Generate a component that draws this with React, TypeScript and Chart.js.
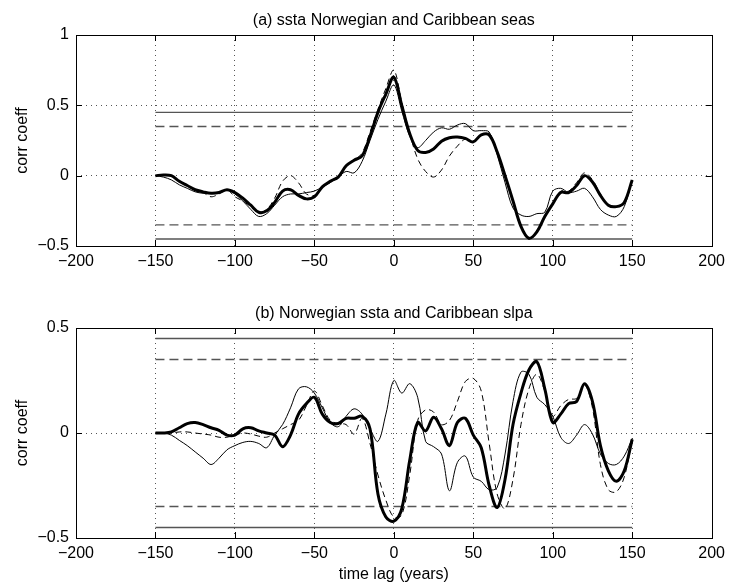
import React, { useEffect, useRef } from 'react';
import { Chart, registerables } from 'chart.js';

Chart.register(...registerables);

// ---- data ----
const LAGS = [
  -150, -145, -140, -135, -130, -125, -120, -115, -110, -105, -100, -95, -90, -85, -80, -75, -70, -65, -60, -55,
  -50, -45, -40, -35, -30, -25, -20, -15, -10, -5, 0, 5, 10, 15, 20, 25, 30, 35, 40, 45,
  50, 55, 60, 65, 70, 75, 80, 85, 90, 95, 100, 105, 110, 115, 120, 125, 130, 135, 140, 145, 150,
];

// (a) ssta Norwegian and Caribbean seas
const A_THICK = [
  0.0, 0.005, 0.0, -0.04, -0.07, -0.1, -0.115, -0.125, -0.12, -0.1, -0.12, -0.16, -0.21, -0.26, -0.25, -0.19, -0.11, -0.1, -0.14, -0.165,
  -0.15, -0.08, -0.04, -0.01, 0.07, 0.11, 0.14, 0.28, 0.45, 0.58, 0.7, 0.5, 0.3, 0.18, 0.165, 0.19, 0.245, 0.27, 0.275, 0.265,
  0.24, 0.29, 0.29, 0.17, 0.0, -0.18, -0.36, -0.445, -0.4, -0.29, -0.2, -0.12, -0.12, -0.07, 0.0, -0.045, -0.14, -0.21, -0.22, -0.19, -0.03,
];
const A_THIN = [
  0.0, -0.01, -0.03, -0.065, -0.09, -0.115, -0.125, -0.125, -0.12, -0.1, -0.13, -0.18, -0.24, -0.29, -0.27, -0.21, -0.15, -0.13, -0.13, -0.12,
  -0.11, -0.08, -0.05, -0.01, 0.03, 0.02, 0.1, 0.25, 0.4, 0.53, 0.645, 0.46, 0.28, 0.2, 0.25, 0.31, 0.34, 0.33, 0.36, 0.37,
  0.32, 0.32, 0.31, 0.15, -0.05, -0.23, -0.28, -0.29, -0.27, -0.26, -0.11, -0.09, -0.12, -0.11, -0.09, -0.15, -0.24, -0.28, -0.29, -0.22, -0.03,
];
const A_DASH = [
  0.0, 0.005, 0.0, -0.04, -0.07, -0.1, -0.12, -0.15, -0.13, -0.1, -0.15, -0.18, -0.22, -0.26, -0.24, -0.16, -0.04, 0.0, -0.05, -0.13,
  -0.14, -0.08, -0.04, -0.01, 0.07, 0.11, 0.16, 0.31, 0.47, 0.62, 0.75, 0.52, 0.3, 0.12, 0.03, -0.01, 0.04, 0.14, 0.21, 0.26,
  0.24, 0.29, 0.3, 0.17, 0.0, -0.18, -0.36, -0.45, -0.4, -0.29, -0.2, -0.11, -0.11, -0.05, 0.02, -0.03, -0.13, -0.21, -0.22, -0.19, -0.03,
];

// (b) Norwegian ssta and Caribbean slpa
const B_THICK = [
  0.0, 0.0, 0.005, 0.025, 0.045, 0.05, 0.04, 0.025, 0.013, -0.01, -0.01, 0.02, 0.025, 0.01, 0.0, -0.01, -0.065, -0.01, 0.09, 0.14,
  0.17, 0.09, 0.05, 0.045, 0.07, 0.07, 0.08, 0.02, -0.29, -0.4, -0.42, -0.36, -0.13, 0.05, 0.01, 0.075, 0.02, -0.06, 0.05, 0.07,
  -0.01, -0.07, -0.25, -0.355, -0.22, 0.04, 0.19, 0.3, 0.34, 0.21, 0.05, 0.09, 0.14, 0.15, 0.235, 0.15, -0.06, -0.18, -0.23, -0.18, -0.03,
];
const B_THIN = [
  0.0, 0.0, -0.01, -0.035, -0.06, -0.09, -0.12, -0.15, -0.12, -0.08, -0.06, -0.045, -0.04, -0.05, -0.07, -0.01, 0.04, 0.12, 0.21, 0.22,
  0.19, 0.12, 0.05, 0.03, 0.08, 0.115, 0.09, 0.02, -0.04, 0.09, 0.25, 0.19, 0.235, 0.17, -0.04, -0.065, -0.1, -0.275, -0.14, -0.11,
  -0.21, -0.23, -0.27, -0.26, -0.1, 0.15, 0.29, 0.28, 0.17, 0.135, 0.08, -0.02, -0.05, -0.01, 0.04, -0.005, -0.1, -0.145, -0.15, -0.11, -0.025,
];
const B_DASH = [
  0.0, 0.0, 0.0, 0.005, 0.005, 0.0, -0.005, -0.01, -0.02, -0.02, -0.01, 0.0, -0.005, -0.015, -0.02, 0.0, 0.02, 0.04, 0.06, 0.13,
  0.2, 0.13, 0.06, 0.045, 0.04, -0.005, 0.07, -0.05, -0.2, -0.32, -0.4, -0.39, -0.2, 0.06, 0.11, 0.1, 0.04, 0.06, 0.15, 0.245,
  0.26, 0.2, -0.05, -0.29, -0.36, -0.22, 0.04, 0.21, 0.28, 0.2, 0.08, 0.13, 0.16, 0.165, 0.23, 0.12, -0.15, -0.27, -0.28, -0.21, -0.03,
];

// significance levels and their lag span
const SIG_SOLID = [0.45, -0.45];
const SIG_DASHED = [0.35, -0.35];
const SIG_SPAN = [-150, 150];

const X_TICKS_MIN = -200;
const X_TICKS_MAX = 200;

const FONT = '"Liberation Sans", Arial, Helvetica, sans-serif';
const W = 731;

const fmt = (v: number) => {
  const n = Number(v);
  const s = String(Math.round(Math.abs(n) * 1000) / 1000);
  return n < 0 ? '\u2212' + s : s;
};

const pts = (ys: number[]) => LAGS.map((x, i) => ({ x, y: ys[i] }));
const sigLine = (v: number) => SIG_SPAN.map((x) => ({ x, y: v }));

const framePlugin = {
  id: 'matlabFrame',
  afterDraw(chart: any) {
    const { ctx, chartArea } = chart;
    const { left, right, top, bottom } = chartArea;
    const xs = chart.scales.x;
    const ys = chart.scales.y;
    const L = 6;
    ctx.save();
    ctx.strokeStyle = '#000';
    ctx.lineWidth = 1;
    ctx.setLineDash([]);
    ctx.strokeRect(Math.round(left) + 0.5, Math.round(top) + 0.5, Math.round(right - left), Math.round(bottom - top));
    ctx.beginPath();
    xs.ticks.forEach((t: any) => {
      const px = Math.round(xs.getPixelForValue(t.value)) + 0.5;
      ctx.moveTo(px, bottom);
      ctx.lineTo(px, bottom - L);
      ctx.moveTo(px, top);
      ctx.lineTo(px, top + L);
    });
    ys.ticks.forEach((t: any) => {
      const py = Math.round(ys.getPixelForValue(t.value)) + 0.5;
      ctx.moveTo(left, py);
      ctx.lineTo(left + L, py);
      ctx.moveTo(right, py);
      ctx.lineTo(right - L, py);
    });
    ctx.stroke();
    ctx.restore();
  },
};

function makeConfig(p: {
  height: number;
  title: string;
  titlePad: { top: number; bottom: number };
  yMin: number;
  yMax: number;
  thick: number[];
  thin: number[];
  dash: number[];
  xTitle?: string;
  plotBottom: number;
}) {
  const sigColor = '#555';
  const datasets: any[] = [
    { data: pts(p.thick), borderColor: '#000', borderWidth: 3, tension: 0.35 },
    { data: pts(p.dash), borderColor: '#000', borderWidth: 1, borderDash: [6, 4], tension: 0.35 },
    { data: pts(p.thin), borderColor: '#000', borderWidth: 1, tension: 0.35 },
  ];
  SIG_SOLID.forEach((v) => datasets.push({ data: sigLine(v), borderColor: sigColor, borderWidth: 1.4, tension: 0 }));
  SIG_DASHED.forEach((v) =>
    datasets.push({ data: sigLine(v), borderColor: sigColor, borderWidth: 1.4, borderDash: [9, 5], tension: 0 })
  );
  datasets.forEach((d) => {
    d.pointRadius = 0;
    d.fill = false;
  });

  return {
    type: 'line',
    data: { datasets },
    plugins: [framePlugin],
    options: {
      animation: false,
      responsive: false,
      devicePixelRatio: 1,
      layout: { padding: { left: 0, right: 17, top: 0, bottom: 0 } },
      plugins: {
        legend: { display: false },
        tooltip: { enabled: false },
        title: {
          display: true,
          text: p.title,
          fullSize: false,
          color: '#000',
          font: { family: FONT, size: 16, weight: 'normal' },
          padding: p.titlePad,
        },
      },
      scales: {
        x: {
          type: 'linear',
          min: X_TICKS_MIN,
          max: X_TICKS_MAX,
          afterFit: (s: any) => {
            s.height = p.height - p.plotBottom;
          },
          ticks: {
            stepSize: 50,
            padding: 6,
            color: '#000',
            font: { family: FONT, size: 16 },
            maxRotation: 0,
            callback: (v: any) => fmt(v),
          },
          grid: {
            drawTicks: false,
            lineWidth: 1,
            color: (c: any) =>
              c.tick && (c.tick.value === X_TICKS_MIN || c.tick.value === X_TICKS_MAX) ? 'rgba(0,0,0,0)' : '#555',
          },
          border: { display: false, dash: [1, 4] },
          title: p.xTitle
            ? {
                display: true,
                text: p.xTitle,
                color: '#000',
                font: { family: FONT, size: 16 },
                padding: { top: 0, bottom: 1 },
              }
            : { display: false },
        },
        y: {
          type: 'linear',
          min: p.yMin,
          max: p.yMax,
          afterFit: (s: any) => {
            s.width = 76;
          },
          ticks: {
            stepSize: 0.5,
            padding: 7,
            color: '#000',
            font: { family: FONT, size: 16 },
            callback: (v: any) => fmt(v),
          },
          grid: {
            drawTicks: false,
            lineWidth: 1,
            color: (c: any) =>
              c.tick && (c.tick.value === p.yMin || c.tick.value === p.yMax) ? 'rgba(0,0,0,0)' : '#555',
          },
          border: { display: false, dash: [1, 4] },
          title: {
            display: true,
            text: 'corr coeff',
            color: '#000',
            font: { family: FONT, size: 16 },
            padding: { top: 13, bottom: 0 },
          },
        },
      },
    },
  };
}

function Panel({ config, top, height }: { config: any; top: number; height: number }) {
  const ref = useRef<HTMLCanvasElement | null>(null);
  useEffect(() => {
    if (!ref.current) return;
    const chart = new Chart(ref.current, config);
    return () => chart.destroy();
  }, []);
  return (
    <canvas
      ref={ref}
      width={W}
      height={height}
      style={{ position: 'absolute', left: 0, top, width: W, height, display: 'block' }}
    />
  );
}

export default function App() {
  const topCfg = makeConfig({
    height: 292,
    title: '(a) ssta Norwegian and Caribbean seas',
    titlePad: { top: 11.4, bottom: 4.4 },
    yMin: -0.5,
    yMax: 1,
    thick: A_THICK,
    thin: A_THIN,
    dash: A_DASH,
    plotBottom: 246,
  });
  const botCfg = makeConfig({
    height: 293,
    title: '(b) Norwegian ssta and Caribbean slpa',
    titlePad: { top: 12.4, bottom: 4.4 },
    yMin: -0.5,
    yMax: 0.5,
    thick: B_THICK,
    thin: B_THIN,
    dash: B_DASH,
    xTitle: 'time lag (years)',
    plotBottom: 246,
  });
  return (
    <div style={{ position: 'absolute', left: 0, top: 0, width: W, height: 585, background: '#fff' }}>
      <Panel config={topCfg} top={0} height={292} />
      <Panel config={botCfg} top={292} height={293} />
    </div>
  );
}
